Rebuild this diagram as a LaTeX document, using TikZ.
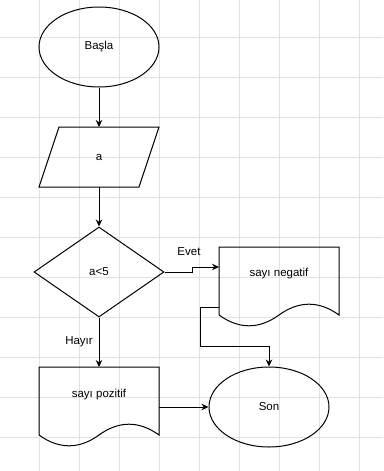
\documentclass[tikz,border=0pt]{standalone}
\usepackage{fontspec}
\setmainfont{Liberation Sans}
\usetikzlibrary{shapes.geometric,arrows.meta,calc}
\definecolor{gridc}{HTML}{E2E2E2}
\tikzset{
  shapeline/.style={draw=black, line width=1pt},
  lbl/.style={font=\fontsize{11.5}{13}\selectfont, inner sep=0pt},
  term/.style={shapeline, ellipse, minimum width=120pt, minimum height=80pt, inner sep=0pt, font=\fontsize{11.5}{13}\selectfont},
  decision/.style={shapeline, diamond, minimum width=130pt, minimum height=90pt, inner sep=0pt, font=\fontsize{11.5}{13}\selectfont},
  box/.style={draw=none, minimum width=120pt, inner sep=0pt, font=\fontsize{11.5}{13}\selectfont},
  arr/.style={draw=black, line width=1pt, -{Stealth[length=7pt,width=6.5pt]}},
}
\begin{document}
\begin{tikzpicture}[x=1pt,y=-1pt]
\useasboundingbox (0,0) rectangle (383,471);
\fill[white] (0,0) rectangle (383,471);
% grid
\foreach \gx in {39,79,...,379} \draw[gridc, line width=0.6pt] (\gx,0) -- (\gx,471);
\foreach \gy in {37,77,...,467} \draw[gridc, line width=0.6pt] (0,\gy) -- (383,\gy);

% start
\node[term] (start) at (99,47) {Başla};

% input parallelogram
\node[box, minimum height=60pt] (inp) at (99,157) {a};
\draw[shapeline] (59,127) -- (159,127) -- (139,187) -- (39,187) -- cycle;

% decision
\node[decision] (dec) at (99,272) {a<5};

% sayı negatif document
\node[box, minimum height=80pt] (neg) at (279,287) {};
\node[lbl] (negt) at (279,274) {sayı negatif};
\draw[shapeline] (219,247) -- (339,247) -- (339,315)
  .. controls (319,300.6) and (299,300.6) .. (279,315)
  .. controls (259,329.4) and (239,329.4) .. (219,315) -- cycle;
\coordinate (negin) at (219,267);
\coordinate (negout) at (219,307);

% sayı pozitif document
\node[box, minimum height=80pt] (pos) at (99,407) {};
\node[lbl] (post) at (99,395) {sayı pozitif};
\draw[shapeline] (39,367) -- (159,367) -- (159,435)
  .. controls (139,420.6) and (119,420.6) .. (99,435)
  .. controls (79,449.4) and (59,449.4) .. (39,435) -- cycle;
\coordinate (posin) at (99,367);

% end
\node[term] (son) at (269,407) {Son};

% connectors
\draw[arr] (start.south) -- (99,127);
\draw[arr] (99,187) -- (dec.north);
\draw[arr] (dec.east) -- ++(28,0) |- (negin);
\draw[arr] (dec.south) -- (posin);
\draw[arr] (negout) -- ++(-19,0) |- ($(son.north)+(0,-20)$) -- (son.north);
\draw[arr] (pos.east) -- (son.west);

% labels
\node[lbl] (evet) at (189,252) {Evet};
\node[lbl] (hayir) at (79,342) {Hayır};
\end{tikzpicture}
\end{document}
